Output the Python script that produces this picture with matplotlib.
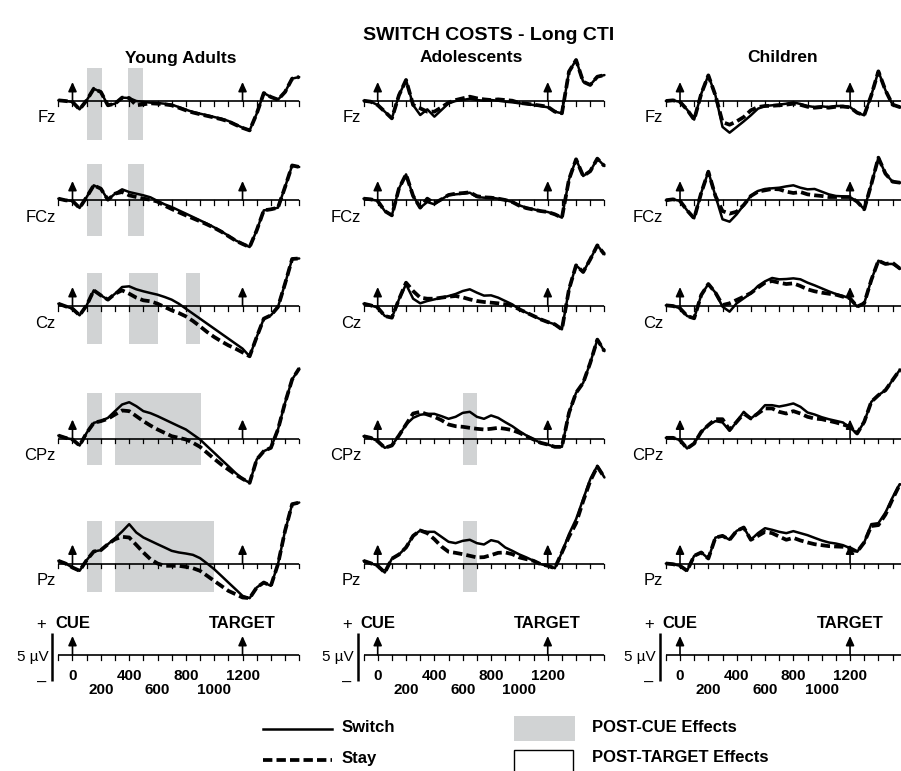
import numpy as np
import matplotlib
matplotlib.use("Agg")
import matplotlib.pyplot as plt
from matplotlib.patches import Rectangle
from matplotlib.lines import Line2D

plt.rcParams['font.family'] = ['Liberation Sans', 'DejaVu Sans']

# ---------------- data ----------------
times = np.arange(-100, 1601, 50)          # ms
groups = ["Young Adults", "Adolescents", "Children"]
electrodes = ["Fz", "FCz", "Cz", "CPz", "Pz"]
scale_ticks_row1 = [0, 400, 800, 1200]
scale_ticks_row2 = [200, 600, 1000]

# Young adults (µV)
ya_fz_switch = [0.07, 0.0, -0.1, -0.87, 0.07, 1.28, 0.94, -0.45, -0.28, 0.35, 0.31, 0.0, -0.1, -0.17, -0.21, -0.28, -0.38, -0.63, -0.9, -1.15, -1.32, -1.49, -1.67, -1.84, -2.08, -2.43, -2.78, -3.06, -1.32, 0.83, 0.42, 0.14, 0.94, 2.33, 2.5]
ya_fz_stay = [0.07, 0.0, -0.1, -0.87, 0.07, 1.28, 0.94, -0.45, -0.28, 0.35, 0.31, -0.45, -0.35, -0.24, -0.28, -0.35, -0.45, -0.7, -0.97, -1.2, -1.38, -1.55, -1.72, -1.9, -2.12, -2.47, -2.8, -3.06, -1.32, 0.83, 0.42, 0.14, 0.94, 2.33, 2.5]
ya_fcz_switch = [0.14, -0.03, -0.1, -0.83, 0.31, 1.53, 1.18, 0.03, 0.66, 1.11, 0.83, 0.66, 0.49, 0.28, -0.1, -0.45, -0.73, -1.08, -1.42, -1.77, -2.12, -2.47, -2.85, -3.26, -3.72, -4.2, -4.55, -4.9, -3.16, -1.08, -0.97, -0.8, 1.35, 3.6, 3.44]
ya_fcz_stay = [0.14, -0.03, -0.1, -0.83, 0.31, 1.53, 1.18, 0.03, 0.66, 0.83, 0.49, 0.31, 0.14, 0.03, -0.17, -0.59, -0.94, -1.28, -1.6, -1.91, -2.22, -2.55, -2.9, -3.3, -3.76, -4.22, -4.58, -4.9, -3.16, -1.08, -0.97, -0.8, 1.35, 3.6, 3.44]
ya_cz_switch = [0.24, -0.03, -0.28, -0.97, 0.07, 1.63, 1.11, 0.66, 1.28, 1.98, 2.05, 1.74, 1.53, 1.35, 1.18, 0.94, 0.66, 0.24, -0.28, -0.8, -1.32, -1.84, -2.36, -2.88, -3.4, -3.92, -4.44, -5.24, -3.23, -1.32, -0.97, -0.1, 2.33, 4.9, 4.95]
ya_cz_stay = [0.24, -0.03, -0.28, -0.97, 0.07, 1.63, 1.11, 0.66, 1.28, 1.63, 1.28, 0.87, 0.59, 0.49, 0.24, -0.1, -0.45, -0.73, -1.08, -1.56, -2.12, -2.71, -3.23, -3.68, -4.1, -4.44, -4.83, -5.24, -3.23, -1.32, -0.97, -0.1, 2.33, 4.9, 4.95]
ya_cpz_switch = [0.31, 0.07, -0.1, -0.73, 0.59, 1.63, 1.81, 2.15, 2.85, 3.54, 3.78, 3.37, 2.85, 2.64, 2.33, 1.98, 1.63, 1.28, 0.94, 0.42, -0.1, -0.8, -1.49, -2.19, -2.88, -3.58, -4.2, -4.62, -2.19, -1.32, -0.97, 0.94, 3.72, 6.15, 7.3]
ya_cpz_stay = [0.31, 0.07, -0.1, -0.73, 0.59, 1.63, 1.81, 2.05, 2.5, 2.92, 2.85, 2.33, 1.81, 1.35, 0.94, 0.59, 0.24, 0.07, -0.1, -0.45, -0.87, -1.49, -2.12, -2.71, -3.23, -3.75, -4.2, -4.62, -2.19, -1.32, -0.97, 0.94, 3.72, 6.15, 7.3]
ya_pz_switch = [0.28, 0.0, -0.42, -0.76, 0.35, 1.25, 1.39, 2.01, 2.64, 3.33, 4.1, 3.23, 2.71, 2.36, 2.01, 1.67, 1.32, 1.15, 1.04, 0.9, 0.56, 0.0, -0.59, -1.28, -1.98, -2.67, -3.37, -3.61, -2.5, -1.98, -2.33, -0.07, 3.4, 6.18, 6.35]
ya_pz_stay = [0.28, 0.0, -0.42, -0.76, 0.35, 1.25, 1.39, 2.01, 2.53, 2.78, 2.71, 1.94, 1.15, 0.45, 0.0, -0.24, -0.24, -0.24, -0.35, -0.49, -0.76, -1.28, -1.81, -2.33, -2.85, -3.19, -3.54, -3.61, -2.5, -1.98, -2.33, -0.07, 3.4, 6.18, 6.35]

# Adolescents (µV)
ad_fz_switch = [0.03, -0.07, -0.42, -1.11, -1.81, 0.6, 2.19, -0.42, -1.46, -0.87, -1.63, -0.94, -0.24, 0.0, 0.1, 0.24, 0.1, 0.03, 0.1, 0.03, -0.07, -0.14, -0.24, -0.31, -0.42, -0.52, -0.66, -1.11, -1.28, 3.06, 4.27, 2.01, 1.67, 2.53, 2.7]
ad_fz_stay = [0.03, -0.07, -0.42, -1.11, -1.81, 0.6, 2.19, -0.42, -0.76, -1.11, -1.11, -0.66, -0.17, 0.1, 0.28, 0.45, 0.28, 0.17, 0.1, 0.17, 0.1, 0.03, -0.2, -0.28, -0.38, -0.48, -0.6, -1.11, -1.28, 3.06, 4.27, 2.01, 1.67, 2.53, 2.7]
ad_fcz_switch = [0.14, 0.07, -0.1, -1.15, -1.6, 1.2, 2.67, 0.42, -0.8, -0.21, -0.45, 0.07, 0.52, 0.59, 0.66, 0.76, 0.31, 0.24, 0.24, 0.14, 0.0, -0.21, -0.56, -0.8, -0.97, -1.15, -1.25, -1.49, -1.84, 2.15, 4.24, 2.5, 3.0, 4.31, 3.54]
ad_fcz_stay = [0.14, 0.07, -0.1, -1.15, -1.6, 1.2, 2.67, 0.42, -0.8, 0.14, -0.35, 0.07, 0.52, 0.66, 0.72, 0.8, 0.4, 0.28, 0.24, 0.14, 0.0, -0.21, -0.6, -0.85, -1.0, -1.15, -1.25, -1.49, -1.84, 2.15, 4.24, 2.5, 3.0, 4.31, 3.54]
ad_cz_switch = [0.24, 0.07, -0.17, -1.04, -1.22, 0.69, 2.26, 0.76, 0.28, 0.52, 0.69, 0.87, 1.04, 1.25, 1.56, 1.74, 1.39, 1.08, 1.11, 0.87, 0.52, 0.17, -0.35, -0.69, -1.04, -1.39, -1.67, -1.91, -2.43, 1.74, 4.24, 3.54, 4.86, 6.32, 5.38]
ad_cz_stay = [0.24, 0.07, -0.17, -1.04, -1.22, 0.69, 2.43, 1.56, 0.87, 0.76, 0.76, 0.87, 0.97, 1.04, 0.9, 0.69, 0.52, 0.42, 0.35, 0.28, 0.17, 0.0, -0.35, -0.69, -1.04, -1.39, -1.67, -1.91, -2.43, 1.74, 4.24, 3.54, 4.86, 6.32, 5.38]
ad_cpz_switch = [0.24, 0.07, -0.28, -0.97, -0.73, 0.31, 1.46, 2.15, 2.47, 2.57, 2.57, 2.33, 2.05, 2.26, 2.67, 2.78, 2.26, 2.05, 2.4, 2.15, 1.7, 1.28, 0.76, 0.31, -0.1, -0.45, -0.63, -0.87, -0.87, 2.67, 4.76, 5.8, 7.88, 10.3, 9.1]
ad_cpz_stay = [0.24, 0.07, -0.28, -0.97, -0.73, 0.31, 1.46, 2.6, 2.78, 2.5, 2.26, 1.91, 1.46, 1.28, 1.22, 1.11, 1.01, 0.94, 1.01, 1.11, 1.01, 0.87, 0.59, 0.24, -0.1, -0.45, -0.63, -0.87, -0.87, 2.67, 4.76, 5.8, 7.88, 10.3, 9.1]
ad_pz_switch = [0.28, 0.03, -0.24, -0.94, 0.5, 0.94, 1.67, 2.88, 3.44, 3.3, 3.3, 2.78, 2.26, 2.12, 2.36, 2.47, 2.12, 1.98, 2.43, 2.26, 1.67, 1.32, 0.94, 0.63, 0.28, -0.07, -0.24, -0.49, 1.15, 3.06, 4.62, 6.7, 8.78, 10.17, 8.96]
ad_pz_stay = [0.28, 0.03, -0.24, -0.94, 0.5, 0.94, 1.67, 2.88, 3.44, 3.16, 2.53, 1.77, 1.22, 1.11, 0.97, 0.8, 0.63, 0.66, 0.87, 1.11, 1.15, 0.97, 0.63, 0.45, 0.28, -0.07, -0.24, -0.49, 1.15, 2.8, 4.2, 6.5, 8.6, 10.1, 8.96]

# Children (µV)
ch_fz_switch = [0.0, 0.07, -0.1, -0.9, -1.94, 0.76, 2.67, 0.59, -2.7, -3.3, -2.71, -2.12, -1.49, -0.8, -0.52, -0.45, -0.38, -0.28, -0.14, -0.31, -0.52, -0.63, -0.56, -0.63, -0.52, -0.52, -0.63, -1.22, -1.49, 0.59, 3.09, 1.11, -0.38, -0.63, -0.52]
ch_fz_stay = [0.0, 0.07, -0.1, -0.9, -1.94, 0.76, 2.67, 0.59, -2.2, -2.47, -2.12, -1.67, -0.97, -0.63, -0.52, -0.5, -0.45, -0.38, -0.28, -0.4, -0.6, -0.7, -0.63, -0.7, -0.6, -0.58, -0.66, -1.22, -1.49, 0.59, 3.09, 1.11, -0.38, -0.63, -0.52]
ch_fcz_switch = [-0.03, 0.07, -0.1, -1.08, -1.91, 0.76, 2.95, 0.42, -2.01, -2.26, -1.49, -0.52, 0.42, 0.94, 1.15, 1.22, 1.28, 1.42, 1.53, 1.28, 1.11, 1.15, 0.87, 0.59, 0.42, 0.38, 0.31, -0.17, -0.97, 1.63, 4.41, 2.74, 1.91, 1.81, 1.81]
ch_fcz_stay = [-0.03, 0.07, -0.1, -1.08, -1.91, 0.76, 2.95, 0.42, -1.15, -1.42, -1.22, -0.52, 0.42, 0.87, 1.01, 1.15, 1.11, 0.87, 0.73, 0.83, 0.59, 0.49, 0.42, 0.31, 0.31, 0.31, 0.31, -0.17, -0.97, 1.63, 4.41, 2.74, 1.91, 1.81, 1.81]
ch_cz_switch = [0.07, 0.0, -0.24, -1.04, -1.28, 1.15, 2.29, 1.39, -0.07, -0.59, 0.28, 0.8, 1.32, 2.08, 2.57, 2.92, 2.78, 2.81, 2.88, 2.78, 2.43, 2.15, 1.84, 1.53, 1.25, 1.04, 0.8, -0.07, 0.28, 2.71, 4.72, 4.38, 4.38, 3.92, 3.75]
ch_cz_stay = [0.07, 0.0, -0.24, -1.04, -1.28, 1.15, 2.29, 1.39, 0.1, 0.28, 0.63, 0.97, 1.35, 1.91, 2.43, 2.6, 2.43, 2.29, 2.36, 2.08, 1.74, 1.53, 1.39, 1.28, 1.18, 0.97, 0.8, -0.07, 0.28, 2.71, 4.72, 4.38, 4.5, 3.92, 3.75]
ch_cpz_switch = [0.07, 0.07, -0.17, -1.04, -0.52, 0.69, 1.39, 1.81, 1.67, 0.8, 1.74, 2.78, 2.08, 2.67, 3.47, 3.47, 3.33, 3.47, 3.65, 3.3, 2.71, 2.5, 2.22, 2.01, 1.84, 1.67, 1.11, 0.52, 1.74, 3.82, 4.51, 5.03, 6.08, 7.12, 6.94]
ch_cpz_stay = [0.07, 0.07, -0.17, -1.04, -0.52, 0.69, 1.39, 2.01, 2.01, 0.9, 1.74, 2.6, 2.08, 2.6, 3.13, 3.13, 2.78, 2.6, 2.85, 2.6, 2.26, 2.08, 2.01, 1.84, 1.67, 1.46, 1.22, 0.52, 1.74, 3.82, 4.51, 5.03, 6.08, 7.12, 6.94]
ch_pz_switch = [0.0, -0.07, -0.24, -0.76, 0.8, 1.15, 0.52, 2.7, 2.88, 2.47, 3.4, 3.75, 2.47, 3.16, 3.68, 3.51, 3.3, 3.16, 3.37, 3.16, 2.95, 2.67, 2.4, 2.19, 2.08, 1.91, 1.6, 1.22, 2.19, 4.1, 4.2, 5.31, 6.88, 8.26, 8.09]
ch_pz_stay = [0.0, -0.07, -0.24, -0.76, 0.8, 1.15, 0.52, 2.7, 2.88, 2.47, 3.4, 3.75, 2.47, 2.88, 3.3, 3.16, 2.81, 2.47, 2.67, 2.4, 2.19, 2.01, 1.91, 1.81, 1.77, 1.74, 1.6, 1.22, 2.19, 3.9, 4.0, 5.1, 6.7, 8.2, 8.09]

switch_data = [
    [ya_fz_switch, ya_fcz_switch, ya_cz_switch, ya_cpz_switch, ya_pz_switch],
    [ad_fz_switch, ad_fcz_switch, ad_cz_switch, ad_cpz_switch, ad_pz_switch],
    [ch_fz_switch, ch_fcz_switch, ch_cz_switch, ch_cpz_switch, ch_pz_switch],
]
stay_data = [
    [ya_fz_stay, ya_fcz_stay, ya_cz_stay, ya_cpz_stay, ya_pz_stay],
    [ad_fz_stay, ad_fcz_stay, ad_cz_stay, ad_cpz_stay, ad_pz_stay],
    [ch_fz_stay, ch_fcz_stay, ch_cz_stay, ch_cpz_stay, ch_pz_stay],
]

# post-cue effect windows: (group index, electrode index, start ms, end ms, low µV, high µV)
post_cue_windows = [
    (0, 0, 100, 210, -4.1, 3.4), (0, 0, 395, 500, -4.1, 3.4),
    (0, 1, 105, 210, -3.8, 3.7), (0, 1, 395, 505, -3.8, 3.7),
    (0, 2, 100, 210, -4.0, 3.4), (0, 2, 400, 600, -4.0, 3.4), (0, 2, 800, 900, -4.0, 3.4),
    (0, 3, 100, 210, -2.8, 4.7), (0, 3, 300, 910, -2.8, 4.7),
    (0, 4, 100, 210, -3.0, 4.4), (0, 4, 300, 1000, -3.0, 4.4),
    (1, 3, 600, 700, -2.8, 4.7),
    (1, 4, 600, 700, -3.0, 4.4),
]

# ---------------- layout ----------------
W, H = 901, 771
fig = plt.figure(figsize=(W / 100, H / 100), dpi=100)

PX_PER_UV = 9.6
PX_PER_MS = 0.1417
cue_x = [72.5, 377.7, 680.0]
zero_y = [101, 200, 306, 438.5, 563.5]
scale_y = 655
HALF = 110
GREY = '#d1d3d4'
SW_LW = 1.8
ST_LW = 2.7
ST_DASH = (0, (2.5, 1.1))


def panel_axes(cx, zy):
    left = cx - 100 * PX_PER_MS
    width = 1700 * PX_PER_MS
    ax = fig.add_axes([left / W, 1 - (zy + HALF) / H, width / W, 2 * HALF / H])
    ax.set_xlim(-100, 1600)
    ax.set_ylim(-HALF / PX_PER_UV, HALF / PX_PER_UV)
    ax.axis('off')
    ax.patch.set_visible(False)
    return ax


def draw_time_axis(ax):
    ax.plot([-100, 1600], [0, 0], color='k', lw=1.2, solid_capstyle='butt', zorder=3, clip_on=False)
    tl = 4.5 / PX_PER_UV
    for t in range(-100, 1601, 100):
        ax.plot([t, t], [0, -tl], color='k', lw=0.9, zorder=3, clip_on=False)
    for t in (0, 1200):
        ax.annotate('', xy=(t, 19 / PX_PER_UV), xytext=(t, 0),
                    arrowprops=dict(arrowstyle='-|>,head_length=0.55,head_width=0.25',
                                    color='k', lw=1.2, shrinkA=0, shrinkB=0),
                    zorder=3, annotation_clip=False)


for g in range(3):
    for e in range(5):
        ax = panel_axes(cue_x[g], zero_y[e])
        for (gi, ei, t0, t1, lo, hi) in post_cue_windows:
            if gi == g and ei == e:
                ax.add_patch(Rectangle((t0, lo), t1 - t0, hi - lo, facecolor=GREY,
                                       edgecolor='none', zorder=1))
        draw_time_axis(ax)
        ax.plot(times, switch_data[g][e], color='k', lw=SW_LW, zorder=4, clip_on=False,
                solid_joinstyle='round', solid_capstyle='round')
        ax.plot(times, stay_data[g][e], color='k', lw=ST_LW, ls=ST_DASH,
                dash_capstyle='butt', dash_joinstyle='round', zorder=5, clip_on=False)
        ax.text(-100 - 2.5 / PX_PER_MS, -17 / PX_PER_UV, electrodes[e], ha='right', va='center',
                fontsize=12)

    # bottom scale
    ax = panel_axes(cue_x[g], scale_y)
    draw_time_axis(ax)
    for t in scale_ticks_row1:
        ax.text(t, -21 / PX_PER_UV, str(t), ha='center', va='center', fontsize=11, fontweight='bold')
    for t in scale_ticks_row2:
        ax.text(t, -35 / PX_PER_UV, str(t), ha='center', va='center', fontsize=11, fontweight='bold')
    ax.text(0, 32 / PX_PER_UV, 'CUE', ha='center', va='center', fontsize=12, fontweight='bold')
    ax.text(1200, 32 / PX_PER_UV, 'TARGET', ha='center', va='center', fontsize=12, fontweight='bold')
    bx = -20 / PX_PER_MS
    ax.plot([bx, bx], [22 / PX_PER_UV, 22 / PX_PER_UV - 5], color='k', lw=1.8,
            solid_capstyle='butt', clip_on=False)
    ax.text(-31 / PX_PER_MS, 31 / PX_PER_UV, '+', ha='center', va='center', fontsize=12)
    ax.text(-31 / PX_PER_MS, -27 / PX_PER_UV, '\u2013', ha='center', va='center', fontsize=12)
    ax.text(-24 / PX_PER_MS, -2 / PX_PER_UV, '5 \u00b5V', ha='right', va='center', fontsize=11)

# overlay for titles and legend (pixel coordinates)
ov = fig.add_axes([0, 0, 1, 1])
ov.set_xlim(0, W)
ov.set_ylim(H, 0)
ov.axis('off')
ov.patch.set_visible(False)

ov.text(489, 35, 'SWITCH COSTS - Long CTI', ha='center', va='center', fontsize=14, fontweight='bold')
title_x = [181, 471, 783]
for g in range(3):
    ov.text(title_x[g], 58, groups[g], ha='center', va='center', fontsize=12.5, fontweight='bold')

ov.add_line(Line2D([263, 332], [729, 729], color='k', lw=SW_LW))
ov.add_line(Line2D([263, 332], [760, 760], color='k', lw=ST_LW, ls=ST_DASH, dash_capstyle='butt'))
ov.text(342, 728, 'Switch', ha='left', va='center', fontsize=12, fontweight='bold')
ov.text(342, 758, 'Stay', ha='left', va='center', fontsize=12, fontweight='bold')
ov.add_patch(Rectangle((514, 716), 61, 25, facecolor=GREY, edgecolor='none'))
ov.add_patch(Rectangle((514, 750), 59, 30, facecolor='white', edgecolor='k', lw=1.0, clip_on=True))
ov.text(592, 728, 'POST-CUE Effects', ha='left', va='center', fontsize=12, fontweight='bold')
ov.text(592, 758, 'POST-TARGET Effects', ha='left', va='center', fontsize=12, fontweight='bold')

fig.savefig('out.png', dpi=100)
